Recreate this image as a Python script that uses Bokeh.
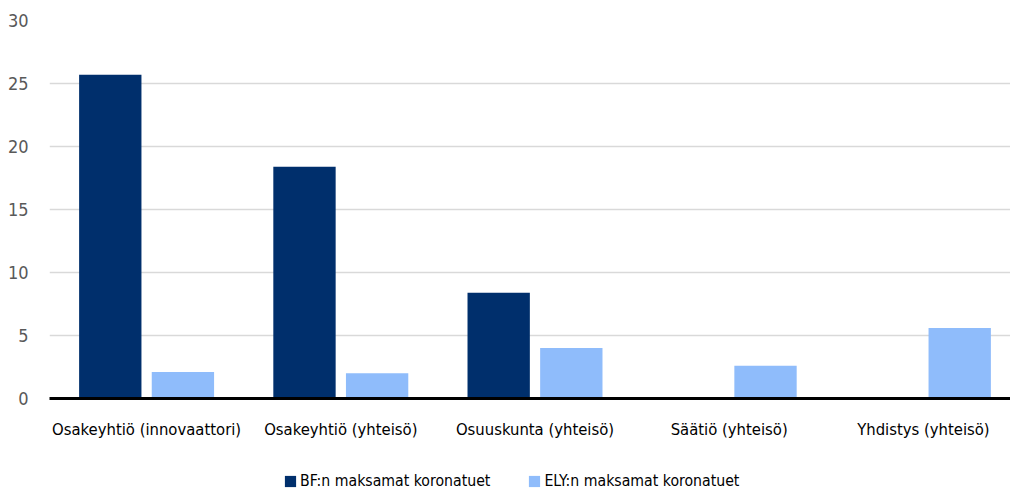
from bokeh.plotting import figure
from bokeh.layouts import column
from bokeh.models import (ColumnDataSource, Range1d, Legend, LegendItem, SingleIntervalTicker,
                          FixedTicker)
from bokeh.embed import file_html
from bokeh.resources import INLINE

categories = ["Osakeyhtiö (innovaattori)", "Osakeyhtiö (yhteisö)", "Osuuskunta (yhteisö)",
              "Säätiö (yhteisö)", "Yhdistys (yhteisö)"]
bf_values = [25.7, 18.4, 8.4, 0, 0]
ely_values = [2.1, 2.0, 4.0, 2.6, 5.6]
series_names = ["BF:n maksamat koronatuet", "ELY:n maksamat koronatuet"]

FONT = "DejaVu Sans Condensed"
DARK = "#002F6C"
LIGHT = "#8FBCFB"

centers = [i + 0.5 for i in range(len(categories))]
src = ColumnDataSource(dict(
    x_bf=[c - 0.187 for c in centers], x_ely=[c + 0.187 for c in centers],
    bf=bf_values, ely=ely_values))

W = 1010
LEFT = 49
p = figure(width=W, height=458, x_range=Range1d(0, (W - LEFT) / 194.2),
           y_range=Range1d(0, 30), output_backend="svg", toolbar_location=None,
           min_border_left=LEFT, min_border_right=0, min_border_top=20, min_border_bottom=60)
p.outline_line_color = None

p.vbar(x="x_bf", top="bf", width=0.321, source=src, fill_color=DARK, line_color=None)
p.vbar(x="x_ely", top="ely", width=0.321, source=src, fill_color=LIGHT, line_color=None)

p.xgrid.grid_line_color = None
p.ygrid.grid_line_color = "#D9D9D9"
p.ygrid.grid_line_width = 1.5
p.yaxis.ticker = SingleIntervalTicker(interval=5)

p.yaxis.axis_line_color = None
p.yaxis.major_tick_line_color = None
p.yaxis.minor_tick_line_color = None
p.yaxis.major_label_text_font = FONT
p.yaxis.major_label_text_font_size = "18px"
p.yaxis.major_label_text_color = "#595959"
p.yaxis.major_label_standoff = 15

p.xaxis.ticker = FixedTicker(ticks=centers)
p.xaxis.major_label_overrides = {c: lab for c, lab in zip(centers, categories)}
p.xaxis.axis_line_color = "black"
p.xaxis.axis_line_width = 3
p.xaxis.major_tick_line_color = None
p.xaxis.minor_tick_line_color = None
p.xaxis.major_label_text_font = FONT
p.xaxis.major_label_text_font_size = "16.5px"
p.xaxis.major_label_text_color = "black"
p.xaxis.major_label_standoff = 15

# legend strip
q = figure(width=W, height=35, x_range=Range1d(0, 1), y_range=Range1d(0, 1),
           output_backend="svg", toolbar_location=None,
           min_border_left=0, min_border_right=0, min_border_top=0, min_border_bottom=0)
q.outline_line_color = None
q.axis.visible = False
q.grid.visible = False
lsrc = ColumnDataSource(dict(x=[-1], top=[0]))
g1 = q.vbar(x="x", top="top", width=0.1, source=lsrc, fill_color=DARK, line_color=None)
g2 = q.vbar(x="x", top="top", width=0.1, source=lsrc, fill_color=LIGHT, line_color=None)
legend = Legend(items=[LegendItem(label=series_names[0], renderers=[g1]),
                       LegendItem(label=series_names[1], renderers=[g2])],
                orientation="horizontal", location=(283 - LEFT, 3),
                label_text_font=FONT, label_text_font_size="15.7px", label_text_color="black",
                glyph_width=14, glyph_height=14, spacing=37, label_standoff=3,
                border_line_color=None, background_fill_alpha=0, padding=0, margin=0)
q.add_layout(legend, "center")

layout = column(p, q, spacing=0)
open("out.html", "w").write(file_html(layout, INLINE))
